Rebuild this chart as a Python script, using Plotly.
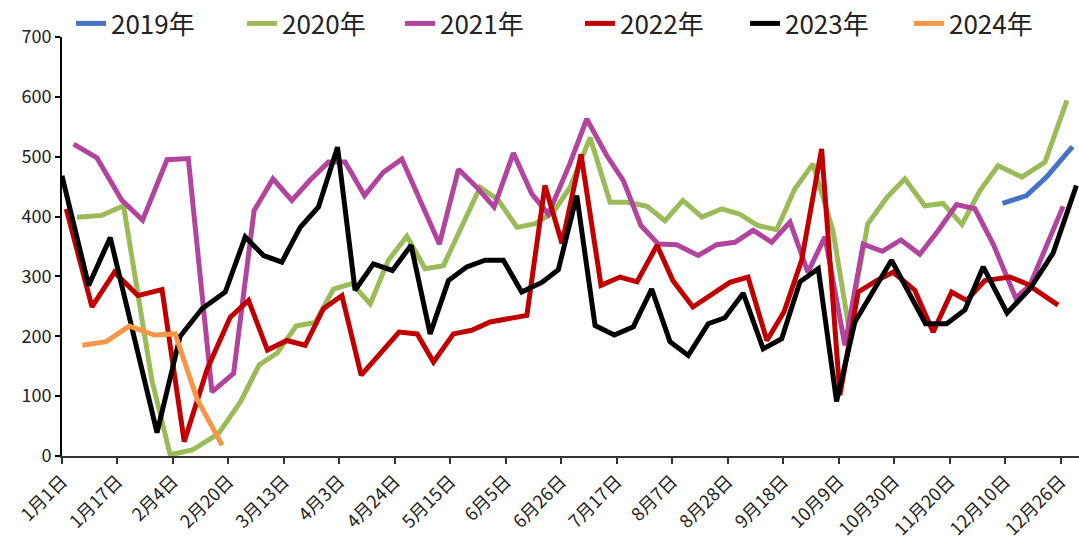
import plotly.graph_objects as go

# x positions are in week units along the seasonal axis (tick every 3 weeks)
tick_weeks = list(range(0, 55, 3))
tick_labels = ["1月1日", "1月17日", "2月4日", "2月20日", "3月13日", "4月3日", "4月24日",
               "5月15日", "6月5日", "6月26日", "7月17日", "8月7日", "8月28日", "9月18日",
               "10月9日", "10月30日", "11月20日", "12月10日", "12月26日"]

wk_2019 = [50.86, 52.16, 53.24, 54.65]
val_2019 = [422, 435, 466, 517]

wk_2020 = [0.81, 2.16, 3.33, 4.86, 5.85, 7.04, 8.45, 9.64, 10.66, 11.64, 12.66, 13.69, 14.68,
           15.68, 16.67, 17.65, 18.65, 19.64, 20.63, 21.62, 22.61, 23.58, 24.61, 25.58, 26.56,
           27.48, 28.56, 29.64, 30.61, 31.64, 32.61, 33.58, 34.61, 35.69, 36.66, 37.63, 38.65,
           39.63, 40.61, 41.69, 42.55, 43.58, 44.61, 45.58, 46.66, 47.64, 48.67, 49.64, 50.62,
           51.91, 53.16, 54.35]
val_2020 = [399, 402, 418, 127, 2, 10, 37, 90, 152, 172, 217, 223, 279, 288, 254, 327, 367, 313,
            318, 382, 449, 428, 382, 388, 407, 449, 532, 424, 424, 417, 393, 427, 399, 413, 404,
            385, 378, 446, 488, 377, 215, 388, 432, 463, 418, 422, 387, 443, 485, 466, 491, 594]

wk_2021 = [0.63, 1.89, 3.24, 4.36, 5.68, 6.83, 8.11, 9.28, 10.39, 11.41, 12.43, 13.42, 14.41,
           15.31, 16.36, 17.38, 18.38, 20.41, 21.44, 22.43, 23.37, 24.41, 25.41, 26.30, 27.46,
           28.38, 29.46, 30.36, 31.31, 32.25, 33.24, 34.41, 35.41, 36.39, 37.38, 38.38, 39.37,
           40.34, 41.26, 42.34, 43.33, 44.36, 45.37, 46.39, 47.37, 48.38, 49.37, 50.36, 51.58,
           52.34, 54.14]
val_2021 = [521, 498, 427, 394, 495, 497, 107, 138, 410, 463, 427, 461, 491, 491, 435, 474, 496,
            354, 479, 449, 416, 506, 438, 404, 488, 563, 502, 460, 385, 354, 353, 335, 353, 357,
            377, 357, 391, 307, 366, 185, 354, 342, 361, 337, 376, 420, 413, 354, 264, 285, 417]

wk_2022 = [0.23, 1.62, 2.84, 4.11, 5.41, 6.61, 7.85, 9.10, 10.09, 11.11, 12.16, 13.15, 14.14,
           15.14, 16.18, 17.21, 18.23, 19.21, 20.09, 21.17, 22.16, 23.15, 24.14, 25.14, 26.12,
           27.04, 28.07, 29.15, 30.18, 31.10, 32.18, 33.04, 34.12, 35.15, 36.12, 37.10, 38.12,
           39.05, 40.0, 41.08, 42.07, 43.06, 44.05, 44.95, 46.12, 47.11, 48.11, 48.92, 49.91,
           51.26, 52.16, 53.87]
val_2022 = [413, 249, 307, 268, 278, 24, 145, 232, 260, 177, 193, 185, 246, 268, 135, 172, 207,
            204, 157, 204, 210, 224, 229, 235, 452, 355, 504, 285, 299, 291, 352, 293, 249, 271,
            290, 299, 193, 241, 327, 513, 102, 274, 293, 307, 277, 207, 274, 260, 293, 299, 288,
            252]

wk_2023 = [0, 1.44, 2.61, 5.14, 6.39, 7.57, 8.83, 9.91, 10.90, 11.89, 12.88, 13.87, 14.90,
           15.85, 16.84, 17.87, 18.88, 19.91, 20.90, 21.89, 22.88, 23.87, 24.86, 25.95, 26.84,
           27.84, 28.83, 29.87, 30.90, 31.89, 32.88, 33.87, 34.95, 35.85, 36.84, 37.92, 38.92,
           39.91, 40.90, 41.89, 42.88, 44.86, 46.70, 47.84, 48.83, 49.82, 51.11, 52.34, 53.60,
           54.86]
val_2023 = [468, 285, 365, 39, 200, 246, 274, 366, 335, 324, 382, 416, 516, 277, 321, 310, 352,
            204, 293, 316, 327, 327, 274, 290, 311, 435, 218, 202, 216, 279, 191, 168, 221, 231,
            272, 179, 196, 291, 313, 91, 224, 327, 221, 221, 244, 316, 239, 279, 339, 452]

wk_2024 = [1.10, 2.39, 3.64, 4.99, 6.12, 7.31, 8.66]
val_2024 = [185, 191, 217, 202, 204, 95, 18]

series = [
    ("2019年", wk_2019, val_2019, "#4472C4"),
    ("2020年", wk_2020, val_2020, "#9BBB59"),
    ("2021年", wk_2021, val_2021, "#B1449C"),
    ("2022年", wk_2022, val_2022, "#C00000"),
    ("2023年", wk_2023, val_2023, "#000000"),
    ("2024年", wk_2024, val_2024, "#F79646"),
]

FONT = "Noto Sans CJK SC"
W, H = 1079, 540
ML, MR, MT, MB = 62, 0, 36, 84
PW = W - ML - MR
PH = H - MT - MB

# legend entry anchors (page px, left of each entry)
legend_left_px = [71, 242, 400, 580, 745, 909]

fig = go.Figure()
layout_legends = {}
for i, (name, xs, ys, color) in enumerate(series):
    lg = "legend" if i == 0 else f"legend{i + 1}"
    fig.add_trace(go.Scatter(x=xs, y=ys, mode="lines", name=name, legend=lg,
                             line=dict(color=color, width=5)))
    layout_legends[lg] = dict(
        orientation="h", x=(legend_left_px[i] - ML) / PW, xanchor="left",
        y=1 + (MT - 22) / PH, yanchor="middle",
        font=dict(size=26, family=FONT, color="#222222"),
        bgcolor="rgba(0,0,0,0)", itemwidth=30)

fig.update_layout(
    width=W, height=H,
    margin=dict(l=ML, r=MR, t=MT, b=MB),
    paper_bgcolor="white", plot_bgcolor="white",
    font=dict(family=FONT, color="#222222"),
    showlegend=True,
    xaxis=dict(range=[0, 55], tickmode="array", tickvals=tick_weeks, ticktext=tick_labels,
               tickangle=-45, tickfont=dict(size=18, family=FONT, color="#222222"),
               showgrid=False, zeroline=False, showline=True, linecolor="#333333",
               linewidth=1.5, ticks="outside", ticklen=6, tickwidth=1.5, tickcolor="#333333"),
    yaxis=dict(range=[0, 700], dtick=100, tick0=0,
               tickfont=dict(size=18, family=FONT, color="#222222"),
               showgrid=False, zeroline=False, showline=True, linecolor="#000000",
               linewidth=2, ticks="outside", ticklen=5, tickwidth=1.5, tickcolor="#000000"),
    **layout_legends,
)

fig.write_html("out.html")
